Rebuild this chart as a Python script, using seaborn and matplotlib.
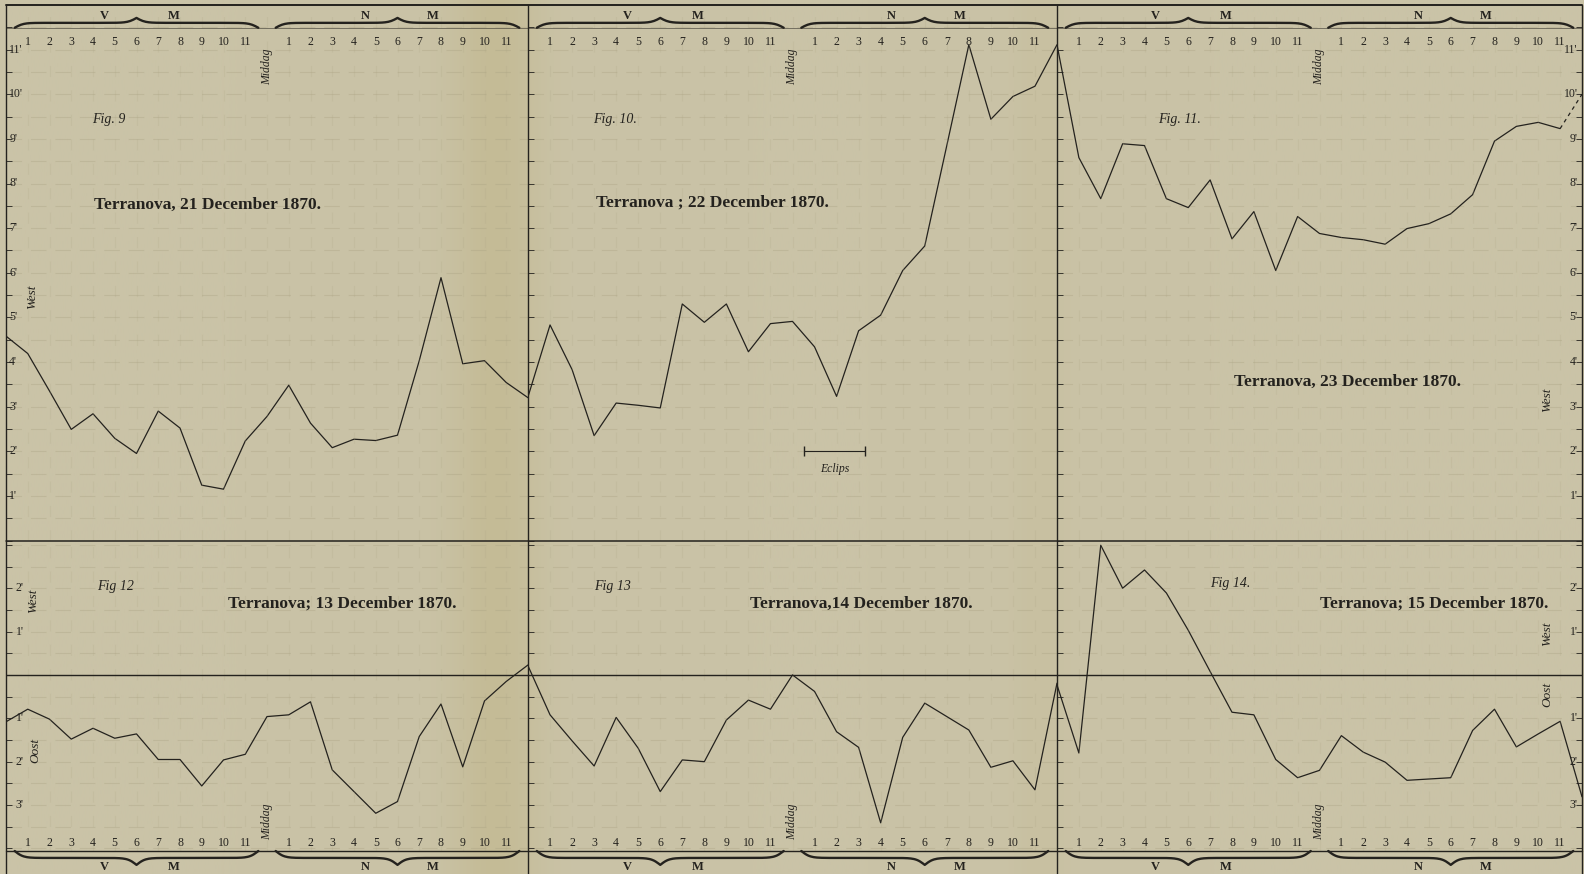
import numpy as np
import pandas as pd
import seaborn as sns
import matplotlib.pyplot as plt
from matplotlib.lines import Line2D

# Uurwaarden (0 = middernacht, 12 = middag, 24 = middernacht)
hours = list(range(25))
hour_labels = [str(h) for h in range(1, 12)] + ["Middag"] + [str(h) for h in range(1, 12)]

# Declinatie-afwijking in boogminuten (West positief, Oost negatief)
dec21 = [4.58, 4.19, 3.35, 2.49, 2.84, 2.29, 1.95, 2.90, 2.52, 1.24, 1.15, 2.23, 2.78,
         3.48, 2.63, 2.08, 2.27, 2.24, 2.36, 4.03, 5.89, 3.96, 4.03, 3.54, 3.20]
dec22 = [3.22, 4.83, 3.83, 2.35, 3.08, 3.03, 2.97, 5.30, 4.89, 5.30, 4.23, 4.86, 4.91,
         4.34, 3.23, 4.70, 5.05, 6.05, 6.60, 8.85, 11.11, 9.44, 9.95, 10.18, 11.11]
dec23 = [11.11, 8.58, 7.66, 8.89, 8.85, 7.66, 7.46, 8.08, 6.76, 7.37, 6.05, 7.26, 6.88,
         6.79, 6.74, 6.64, 6.99, 7.10, 7.32, 7.75, 8.95, 9.28, 9.37, 9.23, 10.0]
dec13 = [-1.08, -0.79, -1.02, -1.48, -1.23, -1.46, -1.36, -1.95, -1.95, -2.56, -1.96, -1.83, -0.96,
         -0.92, -0.62, -2.19, -2.69, -3.19, -2.92, -1.42, -0.67, -2.12, -0.60, -0.15, 0.23]
dec14 = [0.21, -0.92, -1.52, -2.10, -0.98, -1.69, -2.69, -1.96, -2.00, -1.04, -0.58, -0.79, 0.00,
         -0.38, -1.31, -1.67, -3.41, -1.44, -0.65, -0.96, -1.27, -2.13, -1.98, -2.65, -0.19]
dec15 = [-0.23, -1.80, 2.99, 2.00, 2.42, 1.89, 1.03, 0.08, -0.86, -0.92, -1.95, -2.37, -2.20,
         -1.40, -1.78, -2.01, -2.43, -2.40, -2.37, -1.28, -0.79, -1.66, -1.36, -1.07, -2.81]

fig_names = ["Fig. 9", "Fig. 10.", "Fig. 11.", "Fig 12", "Fig 13", "Fig 14."]
titles = ["Terranova, 21 December 1870.", "Terranova ; 22 December 1870.",
          "Terranova, 23 December 1870.", "Terranova; 13 December 1870.",
          "Terranova,14 December 1870.", "Terranova; 15 December 1870."]
series = [dec21, dec22, dec23, dec13, dec14, dec15]

top_ticks = list(range(1, 12))
bottom_ticks_west = [1, 2]
bottom_ticks_oost = [-1, -2, -3]

df = pd.concat([pd.DataFrame({"uur": hours, "afwijking": s, "fig": n})
                for s, n in zip(series, fig_names)], ignore_index=True)

# ---- pagina ----
W, H = 1584, 874
sns.set_style("white")
plt.rcParams['font.family'] = ['Liberation Serif', 'DejaVu Serif']

paper = '#c9c2a4'
ink = '#24221e'

fig = plt.figure(figsize=(W / 100, H / 100), dpi=100, facecolor=paper)

# achtergrond met vouw
bg = fig.add_axes([0, 0, 1, 1], zorder=-10)
xs = np.linspace(0, W, 600)
base = np.array([202, 195, 167]) / 255
fold = np.array([194, 184, 143]) / 255
w = np.exp(-((xs - 495) / 45) ** 2) * 0.7 + np.exp(-((xs - 1040) / 30) ** 2) * 0.25
img = base[None, :] * (1 - w[:, None]) + fold[None, :] * w[:, None]
bg.imshow(img[None, :, :], aspect='auto', extent=[0, 1, 0, 1])
bg.axis('off')

cols = [(6, 528), (528, 1057), (1057, 1582)]
TOP = (5, 540.5)
BOT = (540.5, 851)
TOP_LIM = (0, 12.0)
BOT_LIM = (-4.06, 3.10)


def px_axes(x0, x1, y0, y1):
    ax = fig.add_axes([x0 / W, 1 - y1 / H, (x1 - x0) / W, (y1 - y0) / H])
    ax.set_facecolor('none')
    for s in ax.spines.values():
        s.set_visible(False)
    ax.set_xlim(0, 24)
    return ax


def brace(ax, x0, x1, y, h, k=5.0):
    # horizontale accolade met punt in het midden
    xm = (x0 + x1) / 2
    xl = np.linspace(x0, xm, 80)
    lg = lambda t: 1 / (1 + np.exp(-t))
    yl = y + h * (lg(k * (xl - x0)) + lg(k * (xl - xm)) - 1)
    xr = 2 * xm - xl[::-1]
    yr = yl[::-1]
    ax.plot(np.r_[xl, xr], np.r_[yl, yr], color=ink, lw=1.7, clip_on=False,
            solid_capstyle='round')


axes = []
for i, (x0, x1) in enumerate(cols):
    axes.append(px_axes(x0, x1, *TOP))
for i, (x0, x1) in enumerate(cols):
    axes.append(px_axes(x0, x1, *BOT))

for i, ax in enumerate(axes):
    top = i < 3
    ax.set_ylim(*(TOP_LIM if top else BOT_LIM))
    name = fig_names[i]
    sub = df[df["fig"] == name]
    if name == "Fig. 11.":
        sns.lineplot(data=sub.iloc[:-1], x="uur", y="afwijking", ax=ax, color=ink,
                     lw=0.9, legend=False)
        sns.lineplot(data=sub.iloc[-2:], x="uur", y="afwijking", ax=ax, color=ink,
                     lw=0.9, ls=(0, (3, 3)), legend=False)
    else:
        sns.lineplot(data=sub, x="uur", y="afwijking", ax=ax, color=ink, lw=0.9,
                     legend=False)
    ax.set_xlabel("")
    ax.set_ylabel("")
    ax.set_xticks([])

    # vage hulplijnen van de gravure
    yl = ax.get_ylim()
    ax.set_yticks(np.arange(np.ceil(yl[0] * 2) / 2, yl[1], 0.5))
    ax.tick_params(axis='y', direction='in', length=4, width=0.6, color=ink,
                   left=True, right=(i in (2, 5)), labelleft=False)
    ax.grid(axis='y', color='#aaa282', lw=0.8, alpha=0.35, ls=(0, (14, 8)))
    for h in range(1, 24):
        ax.axvline(h, color='#aaa282', lw=0.8, alpha=0.18, ls=(0, (10, 12)))

    # uurcijfers, accolades en middag
    if top:
        ny, by, bh, ly, my = 11.18, 11.60, 0.22, 11.76, 10.62
        ax.axhline(11.49, color=ink, lw=0.6, alpha=0.6)
    else:
        ny, by, bh, ly, my = -3.87, -4.22, -0.32, -4.42, -3.39
        ax.axhline(0, color=ink, lw=1.0)
    for h, lab in zip(range(1, 24), hour_labels):
        if lab == "Middag":
            ax.text(h, my, lab, rotation=90, ha='center', va='center', fontsize=8.5,
                    style='italic', color=ink, clip_on=False)
        else:
            ax.text(h, ny, lab, ha='center', va='center', fontsize=8.5, color=ink,
                    clip_on=False)
    brace(ax, 0.4, 11.6, by, bh)
    brace(ax, 12.4, 23.6, by, bh)
    for xh, lt in zip([4.5, 7.7, 16.5, 19.6], ["V", "M", "N", "M"]):
        ax.text(xh, ly, lt, ha='center', va='center', fontsize=9, weight='bold',
                color=ink, clip_on=False)

# y-waarden langs de randen
for v in top_ticks:
    axes[0].text(0.15, v, f"{v}'", ha='left', va='center', fontsize=8.5, color=ink)
    axes[2].text(23.8, v, f"{v}'", ha='right', va='center', fontsize=8.5, color=ink)
for v in bottom_ticks_west + bottom_ticks_oost:
    axes[3].text(0.45, v, f"{abs(v)}'", ha='left', va='center', fontsize=8.5, color=ink)
    axes[5].text(23.8, v, f"{abs(v)}'", ha='right', va='center', fontsize=8.5, color=ink)

# West / Oost
axes[0].text(1.2, 5.45, "West", rotation=90, ha='center', va='center', fontsize=9.5,
             style='italic', color=ink)
axes[2].text(22.4, 3.15, "West", rotation=90, ha='center', va='center', fontsize=9.5,
             style='italic', color=ink)
axes[3].text(1.25, 1.7, "West", rotation=90, ha='center', va='center', fontsize=9.5,
             style='italic', color=ink)
axes[3].text(1.35, -1.75, "Oost", rotation=90, ha='center', va='center', fontsize=9.5,
             style='italic', color=ink)
axes[5].text(22.4, 0.95, "West", rotation=90, ha='center', va='center', fontsize=9.5,
             style='italic', color=ink)
axes[5].text(22.4, -0.45, "Oost", rotation=90, ha='center', va='center', fontsize=9.5,
             style='italic', color=ink)

# figuurnummers en titels
fig_pos = [(3.95, 9.43), (2.95, 9.43), (4.6, 9.43), (4.2, 2.05), (3.0, 2.05), (7.0, 2.1)]
title_pos = [(4.05, 7.52), (3.09, 7.57), (8.09, 3.55), (10.2, 1.64), (10.07, 1.64), (12.0, 1.64)]
for ax, n, t, fp, tp in zip(axes, fig_names, titles, fig_pos, title_pos):
    ax.text(fp[0], fp[1], n, ha='left', va='center', fontsize=10, style='italic',
            color=ink)
    ax.text(tp[0], tp[1], t, ha='left', va='center', fontsize=12.5, weight='bold',
            color=ink)

# eclips
axes[1].plot([12.5, 15.3], [2.0, 2.0], color=ink, lw=0.8, marker='|', ms=7)
axes[1].text(13.9, 1.6, "Eclips", ha='center', va='center', fontsize=8.5,
             style='italic', color=ink)

# kaderlijnen
for x in [6, 528, 1057, 1582]:
    fig.add_artist(Line2D([x / W, x / W], [1 - 5 / H, 0], transform=fig.transFigure,
                          color=ink, lw=1.0))
for y, lw in [(5, 1.4), (540.5, 1.1), (851, 1.0)]:
    fig.add_artist(Line2D([6 / W, 1582 / W], [1 - y / H, 1 - y / H],
                          transform=fig.transFigure, color=ink, lw=lw))

fig.savefig("out.png", dpi=100, facecolor=paper)
